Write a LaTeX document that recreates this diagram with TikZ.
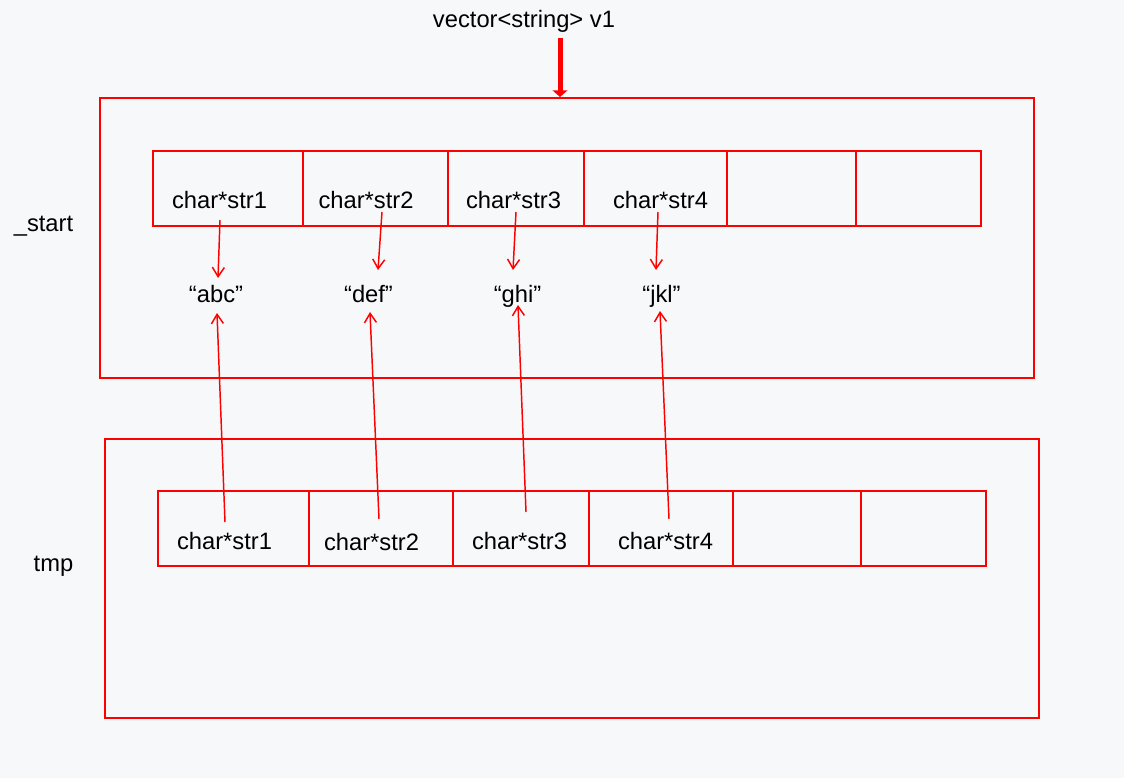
\documentclass[tikz,border=0pt]{standalone}
\usepackage{fontspec}
\setmainfont{Liberation Sans}
\usetikzlibrary{arrows.meta}
\definecolor{bgpage}{HTML}{F7F8FA}
\definecolor{linered}{HTML}{FF0000}

\begin{document}
\begin{tikzpicture}[
    x=0.75pt, y=-0.75pt,
    frame/.style={rectangle, draw=linered, line width=1.5pt, inner sep=0pt, outer sep=0pt, anchor=north west, minimum width=700.5pt},
    cell/.style={rectangle, draw=linered, line width=1.5pt, inner sep=0pt, outer sep=0pt, anchor=north west, minimum height=56.25pt},
    label/.style={font=\fontsize{17.8}{20}\selectfont, text=black, inner sep=0pt, anchor=base},
    ptr/.style={-{Straight Barb[length=7pt,width=9pt]}, linered, line width=1.1pt},
    bigptr/.style={-{Triangle[length=5pt,width=11pt]}, linered, line width=3.75pt},
  ]
    \fill[bgpage] (0,0) rectangle (1124,778);

    % outer frames
    \node[frame, minimum height=210pt] (vbox) at (100,98) {};
    \node[frame, minimum height=209.25pt] (tbox) at (105,439) {};

    % cells
    \foreach \l/\r [count=\i] in {153/303, 303/448, 448/584, 584/727, 727/856, 856/981}
      \node[cell, minimum width={(\r-\l)*0.75pt}] (a\i) at (\l,151) {};
    \foreach \l/\r [count=\i] in {158/309, 309/453, 453/589, 589/733, 733/861, 861/986}
      \node[cell, minimum width={(\r-\l)*0.75pt}] (b\i) at (\l,491) {};

    % labels
    \node[label] (title) at (524,27) {vector<string> v1};
    \node[label] (start) at (43.5,231) {\_start};
    \node[label] (tmp) at (53.5,571) {tmp};

    \node[label] (s1) at (219.5,208) {char*str1};
    \node[label] (s2) at (366,208) {char*str2};
    \node[label] (s3) at (513.5,208) {char*str3};
    \node[label] (s4) at (660.5,208) {char*str4};

    \node[label] (t1) at (224.5,549) {char*str1};
    \node[label] (t2) at (371.5,550) {char*str2};
    \node[label] (t3) at (519.5,549) {char*str3};
    \node[label] (t4) at (665.5,549) {char*str4};

    \node[label] (q1) at (216,302) {“abc”};
    \node[label] (q2) at (368.5,302) {“def”};
    \node[label] (q3) at (517.5,302) {“ghi”};
    \node[label] (q4) at (661.5,302) {“jkl”};

    % pointer ends
    \coordinate (vtop) at (560,38);
    \coordinate (u1) at (220,220);  \coordinate (h1) at (218,278);
    \coordinate (u2) at (382,212);  \coordinate (h2) at (378,270);
    \coordinate (u3) at (516,212);  \coordinate (h3) at (513,270);
    \coordinate (u4) at (658,212);  \coordinate (h4) at (656,270);
    \coordinate (d1) at (225,522);  \coordinate (k1) at (217,313);
    \coordinate (d2) at (379,519);  \coordinate (k2) at (370,312);
    \coordinate (d3) at (526,512);  \coordinate (k3) at (518,305);
    \coordinate (d4) at (669,519);  \coordinate (k4) at (660,311);

    \draw[bigptr] (vtop) -- ([yshift=0.75pt]vtop |- vbox.north);

    \foreach \i in {1,...,4} {
      \draw[ptr] (u\i) -- (h\i);
      \draw[ptr] (d\i) -- (k\i);
    }
  \end{tikzpicture}
\end{document}
